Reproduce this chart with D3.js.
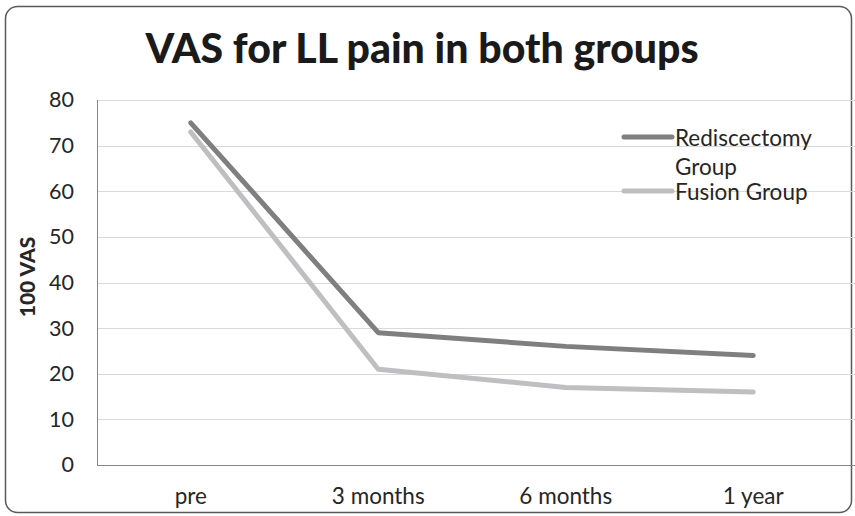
<!DOCTYPE html>
<html>
<head>
<meta charset="utf-8">
<script src="https://cdn.jsdelivr.net/npm/d3@7"></script>
<style>
  body { margin: 0; background: #fff; }
  text { font-family: Lato, "Open Sans", sans-serif; fill: #262626; }
  .axis path, .axis line { stroke: #868686; }
  .grid line { stroke: #d9d9d9; }
</style>
</head>
<body>
<svg width="855" height="516"></svg>
<script>
var periods = ["pre", "3 months", "6 months", "1 year"];
var rediscectomy = [75, 29, 26, 24];
var fusion = [73, 21, 17, 16];
var yTicks = [0, 10, 20, 30, 40, 50, 60, 70, 80];

var series = [
  {name: ["Rediscectomy", "Group"], values: rediscectomy, color: "#7f7f80"},
  {name: ["Fusion Group"], values: fusion, color: "#bfbfc1"}
];

var svg = d3.select("svg"),
    margin = {top: 100, right: 0, bottom: 51, left: 97},
    width = +svg.attr("width") - margin.left - margin.right,
    height = +svg.attr("height") - margin.top - margin.bottom;

// outer frame
svg.append("rect")
    .attr("x", 5.5).attr("y", 6.5)
    .attr("width", 846).attr("height", 506)
    .attr("rx", 12)
    .attr("fill", "none")
    .attr("stroke", "#595959")
    .attr("stroke-width", 1.5);

svg.append("text")
    .attr("x", 422)
    .attr("y", 63)
    .attr("text-anchor", "middle")
    .style("font-weight", "900")
    .style("font-size", "41px")
    .style("fill", "#1a1a1a")
    .text("VAS for LL pain in both groups");

var x = d3.scaleBand().domain(periods).range([0, width - 8]),
    y = d3.scaleLinear().domain([0, 80]).range([height, 0]);

var g = svg.append("g")
    .attr("transform", "translate(" + margin.left + "," + margin.top + ")");

g.append("g")
    .attr("class", "grid")
    .selectAll("line").data(yTicks.slice(1)).enter().append("line")
    .attr("x1", 0).attr("x2", width)
    .attr("y1", function(d){return Math.round(y(d)) + 0.5;})
    .attr("y2", function(d){return Math.round(y(d)) + 0.5;});

var yAxis = g.append("g")
    .attr("class", "axis axis--y")
    .call(d3.axisLeft(y).tickValues(yTicks).tickSize(0).tickPadding(23));
yAxis.select(".domain").remove();
yAxis.selectAll("text").style("font-size", "21.5px").style("fill", "#262626");

g.append("line")
    .attr("x1", 0.5).attr("x2", 0.5)
    .attr("y1", 0).attr("y2", height)
    .attr("stroke", "#868686");

var xAxis = g.append("g")
    .attr("class", "axis axis--x")
    .attr("transform", "translate(0," + height + ")")
    .call(d3.axisBottom(x).tickSize(0).tickPadding(23));
xAxis.select(".domain").remove();
xAxis.selectAll("text").style("font-size", "22.5px").style("fill", "#262626");

g.append("line")
    .attr("x1", 0).attr("x2", width)
    .attr("y1", height + 0.5).attr("y2", height + 0.5)
    .attr("stroke", "#868686");

svg.append("text")
    .attr("transform", "translate(35," + 277 + ") rotate(-90)")
    .attr("text-anchor", "middle")
    .style("font-weight", "900")
    .style("font-size", "21px")
    .text("100 VAS");

var line = d3.line()
    .x(function(d, i){return x(periods[i]) + x.bandwidth() / 2;})
    .y(function(d){return y(d);});

g.selectAll(".series").data(series).enter().append("path")
    .attr("class", "series")
    .attr("d", function(d){return line(d.values);})
    .attr("fill", "none")
    .attr("stroke", function(d){return d.color;})
    .attr("stroke-width", 5)
    .attr("stroke-linecap", "round")
    .attr("stroke-linejoin", "round");

// legend
var legendY = [137, 191];
var legend = svg.selectAll(".legend").data(series).enter().append("g")
    .attr("class", "legend")
    .attr("transform", function(d, i){return "translate(622," + legendY[i] + ")";});

legend.append("line")
    .attr("x1", 2).attr("x2", 50)
    .attr("stroke", function(d){return d.color;})
    .attr("stroke-width", 5)
    .attr("stroke-linecap", "round");

legend.each(function(d){
  var t = d3.select(this).append("text")
      .attr("x", 53)
      .attr("y", 8.5)
      .style("font-size", "22.5px");
  d.name.forEach(function(s, j){
    t.append("tspan").attr("x", 53).attr("dy", j === 0 ? 0 : 29).text(s);
  });
});
</script>
</body>
</html>
